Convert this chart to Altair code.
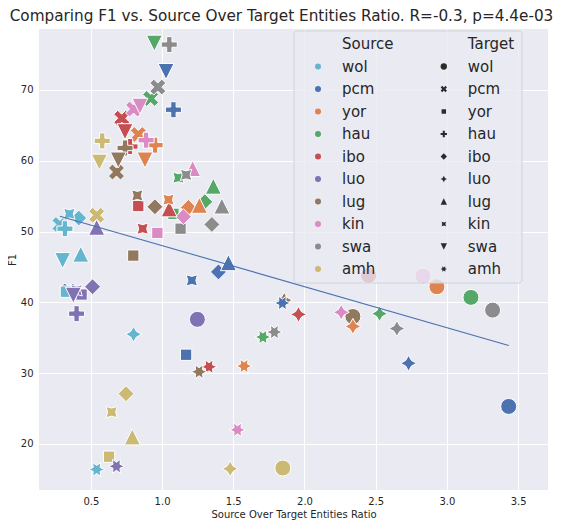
import math
import altair as alt
import pandas as pd

sources = ["wol", "pcm", "yor", "hau", "ibo", "luo", "lug", "kin", "swa", "amh"]
targets = ["wol", "pcm", "yor", "hau", "ibo", "luo", "lug", "kin", "swa", "amh"]
palette = ["#64B5CD", "#4C72B0", "#DD8452", "#55A868", "#C44E52",
           "#8172B3", "#937860", "#DA8BC3", "#8C8C8C", "#CCB974"]

# ratio (source/target entities) and F1, in target order wol..amh (None = same language)
ratio_wol = [None, 0.283, 0.325, 0.318, 0.415, 0.80, 0.429, 0.349, 0.302, 0.541]
f1_wol = [None, 51.0, 41.5, 50.4, 51.9, 35.5, 46.8, 52.5, 45.9, 16.4]
ratio_pcm = [3.434, None, 1.169, 1.08, 1.396, 2.731, 1.466, 1.209, 1.028, 1.845]
f1_pcm = [25.3, None, 32.6, 67.2, 44.3, 31.4, 45.6, 43.1, 72.6, 39.9]
ratio_yor = [2.93, 0.833, None, 0.951, 1.185, 2.34, 1.262, 1.045, 0.88, 1.576]
f1_yor = [42.2, 63.7, None, 62.2, 53.4, 36.6, 53.7, 54.5, 60.1, 31.0]
ratio_hau = [3.169, 0.92, 1.08, None, 1.30, 2.527, 1.36, 1.115, 0.946, 1.708]
f1_hau = [40.7, 68.8, 52.5, None, 54.2, 38.4, 56.4, 57.6, 76.6, 35.1]
ratio_ibo = [2.45, 0.717, 0.833, 0.775, None, 1.958, 1.05, 0.864, 0.74, 1.33]
f1_ibo = [43.8, 66.0, 53.6, 62.0, None, 38.3, 53.2, 50.4, 64.1, 30.9]
ratio_luo = [1.248, 0.345, 0.435, 0.40, 0.512, None, 0.541, 0.40, 0.377, 0.68]
f1_luo = [37.6, 41.6, 41.1, 38.4, 42.2, None, 50.6, 41.7, 41.0, 16.85]
ratio_lug = [2.34, 0.68, 0.798, 0.74, 0.95, 1.858, None, 0.826, 0.693, 1.26]
f1_lug = [38.0, 58.4, 46.6, 61.8, 53.5, 40.3, None, 55.1, 60.1, 30.2]
ratio_kin = [2.832, 0.80, 0.967, 0.888, 1.15, 2.258, 1.215, None, 0.845, 1.53]
f1_kin = [43.7, 67.3, 49.8, 62.9, 52.1, 38.6, 58.9, None, 67.7, 22.0]
ratio_swa = [3.321, 0.97, 1.13, 1.051, 1.35, 2.649, 1.42, 1.169, None, 1.789]
f1_swa = [38.9, 70.4, 50.4, 76.4, 51.0, 36.3, 53.6, 58.0, None, 35.8]
ratio_amh = [1.848, 0.541, 0.628, 0.58, 0.747, 1.478, 0.791, 0.646, 0.56, None]
f1_amh = [16.6, 52.3, 18.2, 62.8, 27.1, 16.5, 21.0, 24.5, 59.8, None]

x_ticks = [0.5, 1.0, 1.5, 2.0, 2.5, 3.0, 3.5]
y_ticks = [20, 30, 40, 50, 60, 70]

ratios = [ratio_wol, ratio_pcm, ratio_yor, ratio_hau, ratio_ibo,
          ratio_luo, ratio_lug, ratio_kin, ratio_swa, ratio_amh]
f1s = [f1_wol, f1_pcm, f1_yor, f1_hau, f1_ibo, f1_luo, f1_lug, f1_kin, f1_swa, f1_amh]

# drawn target by target (later targets on top)
rows = []
for ti, t in enumerate(targets):
    for s, rl, fl in zip(sources, ratios, f1s):
        r, f = rl[ti], fl[ti]
        if r is None:
            continue
        rows.append({"Source": s, "Target": t, "ratio": r, "F1": f})
df = pd.DataFrame(rows)


def path(pts):
    return "M" + "L".join(f"{x:.3f},{y:.3f}" for x, y in pts) + "Z"


def star(n, angle, inner=0.5):
    pts = []
    for i in range(2 * n):
        rad = 1.0 if i % 2 == 0 else inner
        th = math.radians(90 + angle + i * 180.0 / n)
        pts.append((rad * math.cos(th), -rad * math.sin(th)))
    return path(pts)


def poly(n, angle):
    pts = []
    for i in range(n):
        th = math.radians(90 + angle + i * 360.0 / n)
        pts.append((math.cos(th), -math.sin(th)))
    return path(pts)


x_shape = path([(x / 2, y / 2) for x, y in [(-1, -2), (0, -1), (1, -2), (2, -1), (1, 0), (2, 1),
                                              (1, 2), (0, 1), (-1, 2), (-2, 1), (-1, 0), (-2, -1)]])
p_shape = path([(x / 3, y / 3) for x, y in [(-1, -3), (1, -3), (1, -1), (3, -1), (3, 1), (1, 1),
                                              (1, 3), (-1, 3), (-1, 1), (-3, 1), (-3, -1), (-1, -1)]])
shapes = [
    "circle",
    x_shape,
    poly(4, 45),
    p_shape,
    poly(4, 0),
    star(4, 0),
    path([(0, -1), (1, 1), (-1, 1)]),
    star(4, 45),
    path([(0, 1), (1, -1), (-1, -1)]),
    star(6, 30),
]
blank = "M0,0L0,0Z"

FONT = "DejaVu Sans"
TXT = "#262626"

xscale = alt.Scale(domain=[0.136, 3.71], nice=False, zero=False)
yscale = alt.Scale(domain=[13.5, 78.6], nice=False, zero=False)

points = alt.Chart(df).mark_point(
    filled=True, opacity=1, stroke="white", strokeWidth=1, size=256
).encode(
    x=alt.X("ratio:Q", scale=xscale, title="Source Over Target Entities Ratio",
            axis=alt.Axis(values=x_ticks, format=".1f")),
    y=alt.Y("F1:Q", scale=yscale, title="F1",
            axis=alt.Axis(values=y_ticks, format="d")),
    color=alt.Color("Source:N",
                    scale=alt.Scale(domain=["Source"] + sources, range=["transparent"] + palette),
                    legend=alt.Legend(title=None, orient="none", legendX=271.5, legendY=7.5,
                                      symbolType="circle", symbolSize=36, symbolStrokeWidth=0,
                                      labelOffset=16.5, rowPadding=6.5)),
    shape=alt.Shape("Target:N",
                    scale=alt.Scale(domain=["Target"] + targets, range=[blank] + shapes),
                    legend=alt.Legend(title=None, orient="none", legendX=397.3, legendY=7.5,
                                      symbolSize=40, symbolFillColor="#2b2b2b",
                                      symbolStrokeWidth=0, labelOffset=16.5, rowPadding=6.5)),
    order=alt.Order("idx:Q"),
).transform_window(idx="row_number()")

reg = alt.Chart(df).transform_regression("ratio", "F1").mark_line(
    color="#4C72B0", strokeWidth=1.1
).encode(
    x=alt.X("ratio:Q", scale=xscale),
    y=alt.Y("F1:Q", scale=yscale),
)

frame = alt.Chart(pd.DataFrame({"k": [0]})).mark_rect(
    fill="#EAEAF2", fillOpacity=0.8, stroke="#d2d2d8", strokeWidth=1, cornerRadius=3
).encode(
    x=alt.value(255), x2=alt.value(483), y=alt.value(2), y2=alt.value(254)
)

chart = alt.layer(points, reg, frame).properties(
    width=509, height=461,
    title=alt.TitleParams("Comparing F1 vs. Source Over Target Entities Ratio. R=-0.3, p=4.4e-03",
                          font=FONT, fontSize=15.25, fontWeight="normal", color=TXT,
                          anchor="middle", dx=-12, offset=5),
    autosize=alt.AutoSizeParams(type="none"),
    padding={"left": 31, "top": 21, "right": 8, "bottom": 30},
    background="white",
).configure_view(
    fill="#EAEAF2", stroke=None
).configure_axis(
    domain=False, ticks=False, tickSize=0, grid=True, gridColor="white", gridWidth=1,
    labelFont=FONT, labelFontSize=10, labelColor=TXT, labelPadding=6,
    titleFont=FONT, titleFontSize=10, titleColor=TXT, titleFontWeight="normal", titlePadding=3,
).configure_legend(
    labelFont=FONT, labelFontSize=15, labelColor=TXT, padding=0, labelLimit=200,
)

chart.save("out.html", embed_options={"renderer": "svg", "actions": False})
